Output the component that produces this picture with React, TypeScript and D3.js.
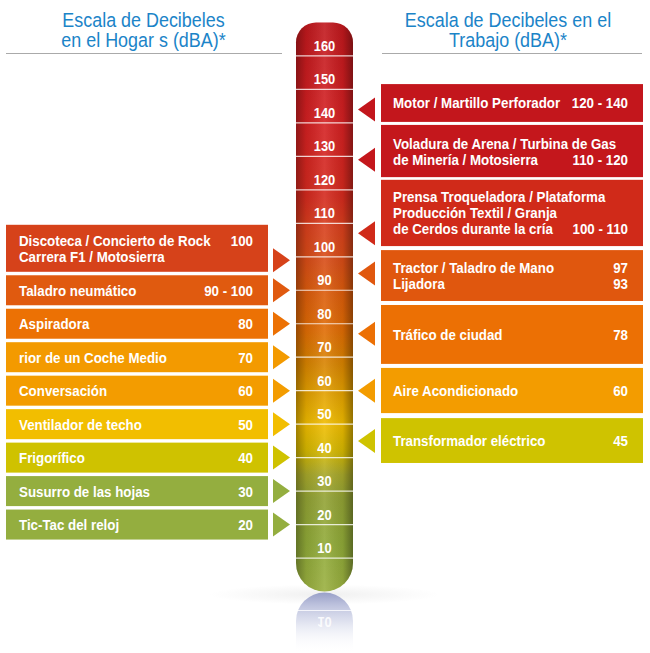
import * as d3 from "d3";

// Hogar (left column)
const leftLabels = [
  ["Discoteca / Concierto de Rock", "Carrera F1 / Motosierra"],
  ["Taladro neumático"],
  ["Aspiradora"],
  ["rior de un Coche Medio"],
  ["Conversación"],
  ["Ventilador de techo"],
  ["Frigorífico"],
  ["Susurro de las hojas"],
  ["Tic-Tac del reloj"],
];
const leftValues = [["100", ""], ["90 - 100"], ["80"], ["70"], ["60"], ["50"], ["40"], ["30"], ["20"]];
const leftLevels = [100, 90, 80, 70, 60, 50, 40, 30, 20];
const leftPoints = [99, 90, 80, 70, 60, 50, 40, 30, 20];
const leftColors = ["#d6421a", "#e05a0f", "#ec7104", "#f39a00", "#f39c00", "#f2be00", "#cfc200", "#94ae3f", "#94ae3f"];

// Trabajo (right column)
const rightLabels = [
  ["Motor / Martillo Perforador"],
  ["Voladura de Arena / Turbina de Gas", "de Minería / Motosierra"],
  ["Prensa Troqueladora / Plataforma", "Producción Textil / Granja", "de Cerdos durante la cría"],
  ["Tractor / Taladro de Mano", "Lijadora"],
  ["Tráfico de ciudad"],
  ["Aire Acondicionado"],
  ["Transformador eléctrico"],
];
const rightValues = [["120 - 140"], ["", "110 - 120"], ["", "", "100 - 110"], ["97", "93"], ["78"], ["60"], ["45"]];
const rightPoints = [144, 129, 107, 95, 77, 60, 45];
const rightBands: [number, number][] = [
  [151.6, 140.3],
  [139.4, 123.8],
  [123, 103.2],
  [102, 86.8],
  [85.6, 68],
  [66.8, 53.3],
  [51.8, 38.4],
];
const rightColors = ["#c3161c", "#c4171c", "#d02a19", "#e0570e", "#ec7004", "#f39c00", "#cfc300"];

const scaleTicks = d3.range(10, 161, 10);
const tubeStops: [number, string][] = [
  [170, "#c0181d"],
  [140, "#d42022"],
  [118, "#d42a1e"],
  [108, "#d8401c"],
  [98, "#d84e16"],
  [88, "#dc5e0a"],
  [78, "#e06c04"],
  [68, "#d88400"],
  [58, "#e4a400"],
  [50, "#f0bc00"],
  [42, "#d6b800"],
  [35, "#a8a82a"],
  [28, "#92a234"],
  [14, "#90aa38"],
  [0, "#9ab040"],
];

// no condensed face is installed, so the text is squeezed horizontally
const FONT = "'Liberation Sans', Arial, sans-serif";
const W = 650;
const H = 653;

function Label(props: {
  x: number;
  y: number;
  sx: number;
  anchor?: "start" | "middle" | "end";
  style: React.CSSProperties;
  children: React.ReactNode;
  flip?: boolean;
}) {
  return (
    <text
      transform={`translate(${props.x},${props.y}) scale(${props.sx},${props.flip ? -1 : 1})`}
      textAnchor={props.anchor || "start"}
      style={props.style}
    >
      {props.children}
    </text>
  );
}

export default function App() {
  const y = d3.scaleLinear().domain([0, 170]).range([591.5, 22.5]);
  const tube = { x0: 296, x1: 353, rt: 20, rb: 28.5 };
  const top = y(170);
  const bot = y(0);
  const cx = (tube.x0 + tube.x1) / 2;

  const tubePath = d3.path();
  tubePath.moveTo(tube.x0, top + tube.rt);
  tubePath.arcTo(tube.x0, top, tube.x0 + tube.rt, top, tube.rt);
  tubePath.lineTo(tube.x1 - tube.rt, top);
  tubePath.arcTo(tube.x1, top, tube.x1, top + tube.rt, tube.rt);
  tubePath.lineTo(tube.x1, bot - tube.rb);
  tubePath.arcTo(tube.x1, bot, tube.x1 - tube.rb, bot, tube.rb);
  tubePath.lineTo(tube.x0 + tube.rb, bot);
  tubePath.arcTo(tube.x0, bot, tube.x0, bot - tube.rb, tube.rb);
  tubePath.closePath();

  // reflection under the tube
  const refTop = bot + 1;
  const refPath = d3.path();
  refPath.moveTo(tube.x0, refTop + tube.rb);
  refPath.arcTo(tube.x0, refTop, tube.x0 + tube.rb, refTop, tube.rb);
  refPath.arcTo(tube.x1, refTop, tube.x1, refTop + tube.rb, tube.rb);
  refPath.lineTo(tube.x1, H);
  refPath.lineTo(tube.x0, H);
  refPath.closePath();

  const left = { x0: 6, x1: 268, arrowBase: 273, arrowTip: 290, valueX: 253, textX: 19 };
  const right = { x0: 381, x1: 643, arrowBase: 375, arrowTip: 358, valueX: 628, textX: 393 };
  const lineH = 16;
  const SX = 0.86;

  const leftBoxes = leftLabels.map((lines, i) => {
    const bottom = y(leftLevels[i]) + 15;
    const h = 30 + 17 * (lines.length - 1);
    return { lines, values: leftValues[i], top: bottom - h, bottom, py: y(leftPoints[i]), color: leftColors[i] };
  });
  const rightBoxes = rightLabels.map((lines, i) => ({
    lines,
    values: rightValues[i],
    top: y(rightBands[i][0]),
    bottom: y(rightBands[i][1]),
    py: y(rightPoints[i]),
    color: rightColors[i],
  }));

  const textStyle = { fontFamily: FONT, fontWeight: 700, fontSize: 15.5, fill: "#fff" } as const;

  const renderBox = (b: typeof leftBoxes[number], side: typeof left, key: string) => {
    const mid = (b.top + b.bottom) / 2;
    const first = mid - ((b.lines.length - 1) * lineH) / 2;
    return (
      <g key={key}>
        <rect x={side.x0} y={b.top} width={side.x1 - side.x0} height={b.bottom - b.top} fill={b.color} />
        <path
          d={`M${side.arrowBase},${b.py - 12}L${side.arrowTip},${b.py}L${side.arrowBase},${b.py + 12}Z`}
          fill={b.color}
        />
        {b.lines.map((t, j) => (
          <Label key={j} x={side.textX} y={first + j * lineH + 5.5} sx={SX} style={textStyle}>
            {t}
          </Label>
        ))}
        {b.values.map((v, j) =>
          v ? (
            <Label key={"v" + j} x={side.valueX} y={first + j * lineH + 5.5} sx={SX} anchor="end" style={textStyle}>
              {v}
            </Label>
          ) : null
        )}
      </g>
    );
  };

  const titleStyle = { fontFamily: FONT, fontSize: 19.5, fill: "#1b84c8" } as const;
  const tickStyle = { fontFamily: FONT, fontWeight: 700, fontSize: 14, fill: "#fff" } as const;

  return (
    <svg width={W} height={H} style={{ position: "absolute", left: 0, top: 0, background: "#fff" }}>
      <defs>
        <linearGradient id="tubeV" gradientUnits="userSpaceOnUse" x1={0} x2={0} y1={top} y2={bot}>
          {tubeStops.map(([db, c], i) => (
            <stop key={i} offset={(y(db) - top) / (bot - top)} stopColor={c} />
          ))}
        </linearGradient>
        <linearGradient id="tubeH" x1={0} x2={1} y1={0} y2={0}>
          <stop offset={0} stopColor="#000" stopOpacity={0.32} />
          <stop offset={0.18} stopColor="#000" stopOpacity={0.08} />
          <stop offset={0.5} stopColor="#fff" stopOpacity={0.1} />
          <stop offset={0.82} stopColor="#000" stopOpacity={0.08} />
          <stop offset={1} stopColor="#000" stopOpacity={0.38} />
        </linearGradient>
        <linearGradient id="refl" x1={0} x2={0} y1={0} y2={1}>
          <stop offset={0} stopColor="#8a92c2" stopOpacity={0.85} />
          <stop offset={0.45} stopColor="#b8bedc" stopOpacity={0.5} />
          <stop offset={1} stopColor="#fff" stopOpacity={0} />
        </linearGradient>
        <radialGradient id="floor" cx={0.5} cy={0.5} r={0.5}>
          <stop offset={0} stopColor="#ccc" stopOpacity={0.3} />
          <stop offset={1} stopColor="#ccc" stopOpacity={0} />
        </radialGradient>
      </defs>

      {/* titles */}
      <Label x={143.5} y={26.5} sx={0.92} anchor="middle" style={titleStyle}>Escala de Decibeles</Label>
      <Label x={143.5} y={46.5} sx={0.92} anchor="middle" style={titleStyle}>en el Hogar s (dBA)*</Label>
      <line x1={6} x2={282} y1={53.5} y2={53.5} stroke="#aaa" strokeWidth={1} />
      <Label x={508} y={26.5} sx={0.92} anchor="middle" style={titleStyle}>Escala de Decibeles en el</Label>
      <Label x={508} y={46.5} sx={0.92} anchor="middle" style={titleStyle}>Trabajo (dBA)*</Label>
      <line x1={382} x2={642} y1={53.5} y2={53.5} stroke="#aaa" strokeWidth={1} />

      {/* floor + reflection */}
      <ellipse cx={cx} cy={bot + 3} rx={115} ry={10} fill="url(#floor)" />
      <path d={refPath.toString()} fill="url(#refl)" />
      <line x1={tube.x0} x2={tube.x1} y1={refTop + 18} y2={refTop + 18} stroke="#fff" strokeOpacity={0.8} />
      <Label x={cx} y={refTop + 24} sx={0.92} flip anchor="middle" style={{ ...tickStyle, opacity: 0.85 }}>
        10
      </Label>

      {/* thermometer */}
      <path d={tubePath.toString()} fill="url(#tubeV)" />
      <path d={tubePath.toString()} fill="url(#tubeH)" />
      {scaleTicks.map((t) => (
        <g key={t}>
          <line x1={tube.x0} x2={tube.x1} y1={y(t)} y2={y(t)} stroke="#fff" strokeOpacity={0.8} strokeWidth={1.2} />
          <Label x={cx} y={y(t) - 5} sx={0.92} anchor="middle" style={tickStyle}>
            {t}
          </Label>
        </g>
      ))}

      {leftBoxes.map((b, i) => renderBox(b, left, "l" + i))}
      {rightBoxes.map((b, i) => renderBox(b, right, "r" + i))}
    </svg>
  );
}
